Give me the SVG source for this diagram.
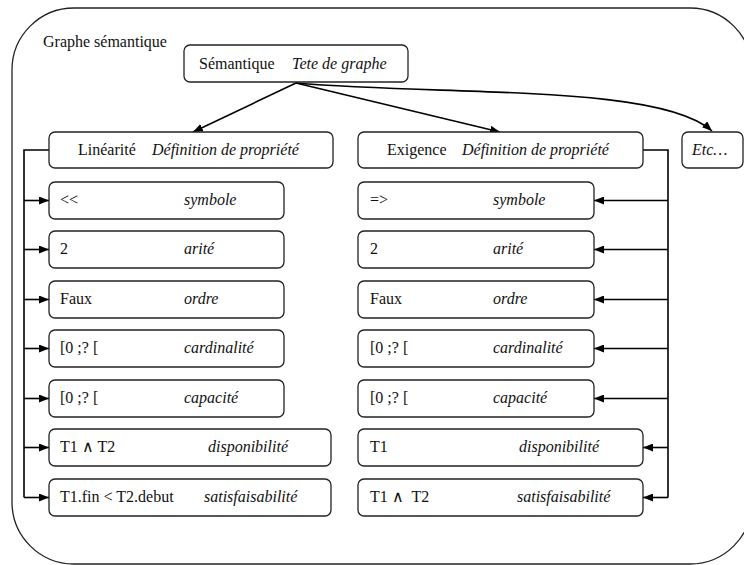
<svg xmlns="http://www.w3.org/2000/svg" width="744" height="565" viewBox="0 0 744 565" font-family="Liberation Serif, serif">
  <style>
    text { font-size: 16px; fill: #111; }
    .it { font-style: italic; }
    .box { fill: #fff; stroke: #222; stroke-width: 1.3; }
    .frame { fill: none; stroke: #222; stroke-width: 1.3; }
    .link { fill: none; stroke: #000; stroke-width: 1.6; }
  </style>
  <defs>
    <marker id="arrow" markerUnits="userSpaceOnUse" markerWidth="10" markerHeight="8" refX="10" refY="4" orient="auto">
      <path d="M0,0 L10,4 L0,8 z" fill="#000"/>
    </marker>
  </defs>

  <rect width="744" height="565" fill="#fff"/>

  <!-- outer frame -->
  <g id="graphe">
    <rect class="frame" x="12" y="8" width="740" height="556" rx="62" ry="62"/>
    <text x="43" y="47">Graphe sémantique</text>
  </g>

  <!-- connectors -->
  <g id="connectors">
    <line class="link" x1="296" y1="83" x2="193" y2="132" marker-end="url(#arrow)"/>
    <line class="link" x1="296" y1="83" x2="500" y2="132" marker-end="url(#arrow)"/>
    <path class="link" d="M296,83 C450,96 660,84 712,131" marker-end="url(#arrow)"/>

    <!-- left bracket -->
    <path class="link" d="M49,150 H24 V497.5"/>
    <line class="link" x1="24" y1="200.5" x2="49" y2="200.5" marker-end="url(#arrow)"/>
    <line class="link" x1="24" y1="249.5" x2="49" y2="249.5" marker-end="url(#arrow)"/>
    <line class="link" x1="24" y1="299.5" x2="49" y2="299.5" marker-end="url(#arrow)"/>
    <line class="link" x1="24" y1="348.5" x2="49" y2="348.5" marker-end="url(#arrow)"/>
    <line class="link" x1="24" y1="398.5" x2="49" y2="398.5" marker-end="url(#arrow)"/>
    <line class="link" x1="24" y1="447.5" x2="49" y2="447.5" marker-end="url(#arrow)"/>
    <line class="link" x1="24" y1="497.5" x2="49" y2="497.5" marker-end="url(#arrow)"/>

    <!-- right bracket -->
    <path class="link" d="M643,150 H668 V497.5"/>
    <line class="link" x1="668" y1="200.5" x2="594" y2="200.5" marker-end="url(#arrow)"/>
    <line class="link" x1="668" y1="249.5" x2="594" y2="249.5" marker-end="url(#arrow)"/>
    <line class="link" x1="668" y1="299.5" x2="594" y2="299.5" marker-end="url(#arrow)"/>
    <line class="link" x1="668" y1="348.5" x2="594" y2="348.5" marker-end="url(#arrow)"/>
    <line class="link" x1="668" y1="398.5" x2="594" y2="398.5" marker-end="url(#arrow)"/>
    <line class="link" x1="668" y1="447.5" x2="643" y2="447.5" marker-end="url(#arrow)"/>
    <line class="link" x1="668" y1="497.5" x2="643" y2="497.5" marker-end="url(#arrow)"/>
  </g>

  <!-- head node -->
  <g id="semantique">
    <rect class="box" x="184" y="45" width="224" height="37" rx="6"/>
    <text x="199" y="69">Sémantique</text>
    <text class="it" x="292" y="69">Tete de graphe</text>
  </g>

  <!-- property definitions -->
  <g id="linearite">
    <rect class="box" x="49" y="132" width="284" height="36" rx="6"/>
    <text x="78" y="155">Linéarité</text>
    <text class="it" x="152" y="155">Définition de propriété</text>
  </g>
  <g id="exigence">
    <rect class="box" x="358" y="132" width="285" height="36" rx="6"/>
    <text x="387" y="155">Exigence</text>
    <text class="it" x="462" y="155">Définition de propriété</text>
  </g>
  <g id="etc">
    <rect class="box" x="682" y="132" width="61" height="36" rx="6"/>
    <text class="it" x="692" y="155">Etc…</text>
  </g>

  <!-- Linéarité attributes -->
  <g id="lin-symbole">
    <rect class="box" x="49" y="182" width="235" height="37" rx="6"/>
    <text x="60" y="205">&lt;&lt;</text>
    <text class="it" x="184" y="205">symbole</text>
  </g>
  <g id="lin-arite">
    <rect class="box" x="49" y="231" width="235" height="37" rx="6"/>
    <text x="60" y="254">2</text>
    <text class="it" x="184" y="254">arité</text>
  </g>
  <g id="lin-ordre">
    <rect class="box" x="49" y="281" width="235" height="37" rx="6"/>
    <text x="60" y="304">Faux</text>
    <text class="it" x="184" y="304">ordre</text>
  </g>
  <g id="lin-cardinalite">
    <rect class="box" x="49" y="330" width="235" height="37" rx="6"/>
    <text x="60" y="353">[0 ;? [</text>
    <text class="it" x="184" y="353">cardinalité</text>
  </g>
  <g id="lin-capacite">
    <rect class="box" x="49" y="380" width="235" height="37" rx="6"/>
    <text x="60" y="403">[0 ;? [</text>
    <text class="it" x="184" y="403">capacité</text>
  </g>
  <g id="lin-disponibilite">
    <rect class="box" x="49" y="429" width="282" height="37" rx="6"/>
    <text x="60" y="452">T1 ∧ T2</text>
    <text class="it" x="208" y="452">disponibilité</text>
  </g>
  <g id="lin-satisfaisabilite">
    <rect class="box" x="49" y="479" width="282" height="37" rx="6"/>
    <text x="60" y="502">T1.fin &lt; T2.debut</text>
    <text class="it" x="204" y="502">satisfaisabilité</text>
  </g>

  <!-- Exigence attributes -->
  <g id="exi-symbole">
    <rect class="box" x="358" y="182" width="236" height="37" rx="6"/>
    <text x="370" y="205">=&gt;</text>
    <text class="it" x="493" y="205">symbole</text>
  </g>
  <g id="exi-arite">
    <rect class="box" x="358" y="231" width="236" height="37" rx="6"/>
    <text x="370" y="254">2</text>
    <text class="it" x="493" y="254">arité</text>
  </g>
  <g id="exi-ordre">
    <rect class="box" x="358" y="281" width="236" height="37" rx="6"/>
    <text x="370" y="304">Faux</text>
    <text class="it" x="493" y="304">ordre</text>
  </g>
  <g id="exi-cardinalite">
    <rect class="box" x="358" y="330" width="236" height="37" rx="6"/>
    <text x="370" y="353">[0 ;? [</text>
    <text class="it" x="493" y="353">cardinalité</text>
  </g>
  <g id="exi-capacite">
    <rect class="box" x="358" y="380" width="236" height="37" rx="6"/>
    <text x="370" y="403">[0 ;? [</text>
    <text class="it" x="493" y="403">capacité</text>
  </g>
  <g id="exi-disponibilite">
    <rect class="box" x="358" y="429" width="285" height="37" rx="6"/>
    <text x="370" y="452">T1</text>
    <text class="it" x="519" y="452">disponibilité</text>
  </g>
  <g id="exi-satisfaisabilite">
    <rect class="box" x="358" y="479" width="285" height="37" rx="6"/>
    <text x="370" y="502" xml:space="preserve">T1 ∧  T2</text>
    <text class="it" x="517" y="502">satisfaisabilité</text>
  </g>
</svg>
